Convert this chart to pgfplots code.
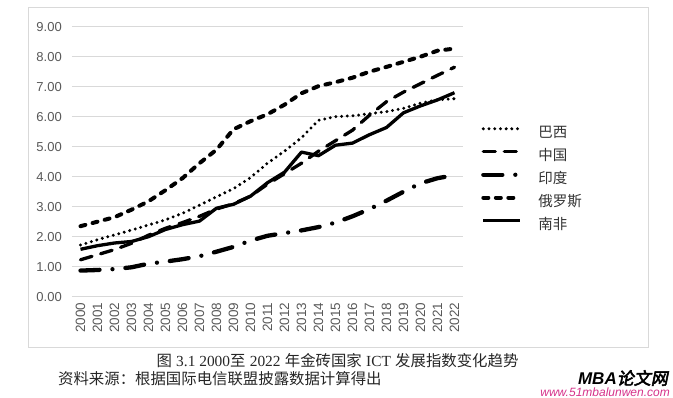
\documentclass[border=0pt]{standalone}
\usepackage{fontspec}
\setmainfont{Liberation Sans}
\newfontfamily\cjk{Noto Sans CJK SC}
\newfontfamily\tms{Liberation Serif}
\newfontfamily\cjkwm[FakeBold=3,FakeSlant=0.2]{Noto Sans CJK SC}
\usepackage{pgfplots}
\usepackage{pgfplotstable}
\pgfplotsset{compat=1.18}

\pgfplotstableread{
year br cn ind ru za
2000 1.72 1.23 0.87 2.35 1.58
2001 1.90 1.40 0.89 2.50 1.70
2002 2.06 1.57 0.92 2.65 1.79
2003 2.22 1.78 0.98 2.90 1.84
2004 2.39 2.05 1.10 3.18 2.00
2005 2.56 2.28 1.17 3.55 2.24
2006 2.78 2.47 1.25 3.95 2.40
2007 3.05 2.68 1.35 4.45 2.52
2008 3.33 2.92 1.50 4.90 2.95
2009 3.60 3.10 1.66 5.58 3.08
2010 3.97 3.35 1.87 5.85 3.35
2011 4.45 3.75 2.03 6.08 3.80
2012 4.85 4.10 2.12 6.40 4.15
2013 5.30 4.45 2.21 6.78 4.82
2014 5.88 4.85 2.32 7.02 4.70
2015 6.00 5.20 2.47 7.15 5.05
2016 6.03 5.55 2.68 7.30 5.12
2017 6.10 6.05 2.92 7.50 5.40
2018 6.17 6.50 3.20 7.66 5.64
2019 6.28 6.82 3.50 7.83 6.13
2020 6.45 7.10 3.78 8.00 6.36
2021 6.56 7.38 3.95 8.20 6.56
2022 6.60 7.65 4.05 8.27 6.80
}\data

\begin{document}
\begin{tikzpicture}[x=1pt,y=1pt]
\useasboundingbox (0,0) rectangle (673,398);
\draw[black!15, line width=0.8pt] (28,391) rectangle (648,51);
\begin{axis}[
  at={(72pt,101.3pt)}, anchor=south west,
  width=391pt, height=270pt, scale only axis,
  xmin=1999.5, xmax=2022.5, ymin=0, ymax=9,
  xtick={2000,...,2022}, ytick={0,...,9},
  axis line style={draw=none}, major tick length=0pt,
  ymajorgrids, grid style={black!15, line width=1.3pt},
  /pgf/number format/assume math mode=true,
  ticklabel style={text=black!65, inner sep=0pt},
  xticklabel style={font=\fontsize{13.5}{13.5}\selectfont, rotate=90, anchor=east,
     /pgf/number format/1000 sep={}},
  yticklabel style={font=\fontsize{13}{13}\selectfont, anchor=east,
     /pgf/number format/.cd, fixed, fixed zerofill, precision=2},
  xticklabel shift=6pt, yticklabel shift=10pt,
  legend style={at={(1.046,0.632)}, anchor=north west, draw=none, fill=none,
     inner sep=0pt, font=\cjk\fontsize{14.5}{14.5}\selectfont, text=black!80,
     row sep=8pt, nodes={inner sep=0pt, text height=11pt, text depth=4pt},
     /tikz/every odd column/.append style={column sep=16pt}},
  legend cell align=left,
  legend image code/.code={\draw[#1] (0pt,5pt) -- (37pt,5pt);},
]
\addplot[black, mark=none, line width=3.3pt, line cap=round, dash pattern=on 0pt off 5.7pt] table[x=year,y=br]{\data};
\addlegendentry{巴西}
\addplot[black, mark=none, line width=3.3pt, line cap=round, dash pattern=on 12pt off 9pt] table[x=year,y=cn]{\data};
\addlegendentry{中国}
\addplot[black, mark=none, line width=4.3pt, line cap=round, dash pattern=on 19pt off 13pt on 0pt off 13pt] table[x=year,y=ind]{\data};
\addlegendentry{印度}
\addplot[black, mark=none, line width=4pt, line cap=round, dash pattern=on 5pt off 7.5pt] table[x=year,y=ru]{\data};
\addlegendentry{俄罗斯}
\addplot[black, mark=none, line width=3.3pt, line join=round] table[x=year,y=za]{\data};
\addlegendentry{南非}
\end{axis}
\node[font=\fontsize{15.4}{15.4}\selectfont, text=black!85, inner sep=0pt] at (337.5,37)
  {{\cjk 图} {\tms 3.1 2000}{\cjk 至} {\tms 2022} {\cjk 年金砖国家} {\tms ICT} {\cjk 发展指数变化趋势}};
\node[font=\cjk\fontsize{15.4}{15.4}\selectfont, text=black!85, inner sep=0pt, anchor=west] at (58,19)
  {资料来源：根据国际电信联盟披露数据计算得出};
\node[font=\fontsize{17}{17}\selectfont, inner sep=0pt, anchor=east] at (668,20)
  {{\bfseries\itshape MBA}{\cjkwm 论文网}};
\node[font=\fontsize{12}{12}\selectfont\itshape, text={rgb,255:red,214;green,51;blue,138}, inner sep=0pt, anchor=east] at (670,6)
  {www.51mbalunwen.com};
\end{tikzpicture}
\end{document}
